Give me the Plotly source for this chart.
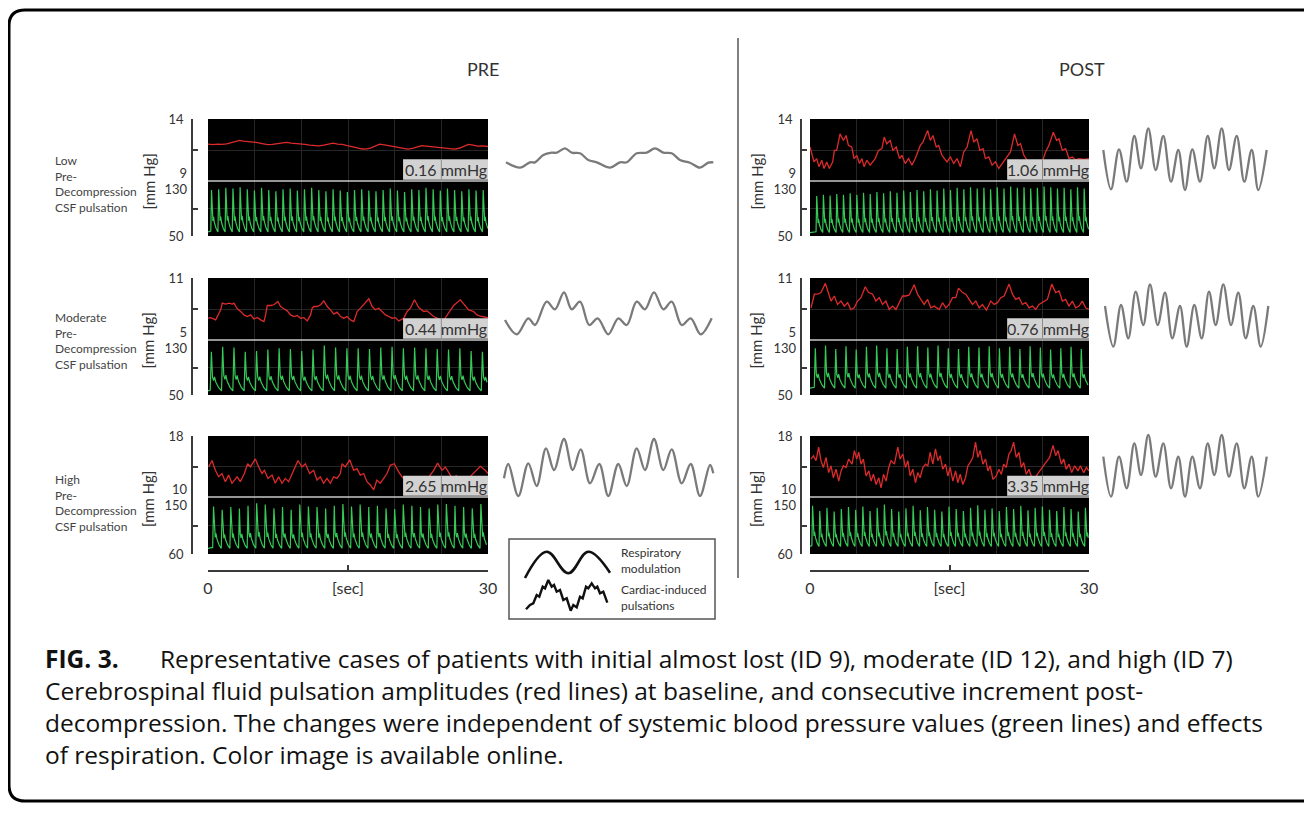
import plotly.graph_objects as go

# ======================= DATA =======================
SECONDS = [0, 30]
ROW_NAMES = ["Low", "Moderate", "High"]
ROW_SUFFIX = ["Pre-", "Decompression", "CSF pulsation"]
RED_RANGES = [[9, 14], [5, 11], [10, 18]]          # CSF pressure axes [mmHg]
GREEN_RANGES = [[50, 130], [50, 130], [60, 150]]   # arterial pressure axes [mmHg]
AMPLITUDE_TEXT = {
    "PRE": ["0.16 mmHg", "0.44 mmHg", "2.65 mmHg"],
    "POST": ["1.06 mmHg", "0.76 mmHg", "3.35 mmHg"],
}

# CSF pressure traces (t [s], mmHg)
pre_low_csf = [(0, 11.97), (0.5, 11.94), (1, 11.98), (1.5, 11.95), (2, 12.0), (2.5, 12.08), (3, 12.18),
               (3.4, 12.27), (3.8, 12.22), (4.3, 12.2), (4.8, 12.12), (5.3, 12.1), (5.8, 12.02),
               (6.4, 11.93), (6.9, 11.95), (7.4, 12.0), (7.9, 12.08), (8.4, 12.12), (8.9, 12.06),
               (9.4, 12.04), (9.9, 11.98), (10.4, 11.95), (10.9, 11.9), (11.4, 11.86), (11.9, 11.84),
               (12.4, 11.9), (12.9, 11.98), (13.4, 12.06), (13.9, 11.97), (14.4, 11.95), (14.9, 11.86),
               (15.4, 11.8), (15.9, 11.7), (16.4, 11.6), (16.9, 11.57), (17.4, 11.66), (17.9, 11.8),
               (18.4, 11.97), (18.9, 11.92), (19.4, 11.85), (19.9, 11.78), (20.4, 11.7), (20.9, 11.64),
               (21.4, 11.57), (21.9, 11.63), (22.4, 11.75), (22.9, 11.86), (23.4, 11.82), (23.9, 11.78),
               (24.4, 11.72), (24.9, 11.66), (25.4, 11.6), (25.9, 11.58), (26.4, 11.57), (26.9, 11.64),
               (27.4, 11.8), (27.9, 11.95), (28.4, 11.9), (28.9, 11.82), (29.4, 11.84), (30, 11.78)]

pre_mod_csf = [(0, 7.11), (0.29, 7.17), (0.82, 6.95), (1.36, 7.92), (1.53, 8.57), (1.89, 8.47), (2.25, 8.57),
               (2.6, 8.47), (2.78, 8.57), (3.14, 8.02), (3.5, 7.76), (3.85, 7.43), (4.21, 7.27), (4.57, 7.43),
               (4.92, 7.04), (5.28, 7.17), (5.64, 6.95), (5.99, 6.78), (6.17, 7.43), (6.35, 8.34), (6.71, 8.34),
               (7.06, 8.41), (7.49, 8.73), (7.78, 8.24), (8.13, 8.02), (8.49, 7.82), (8.85, 7.43), (9.2, 7.27),
               (9.56, 7.37), (9.92, 7.11), (10.27, 7.17), (10.63, 6.85), (10.99, 7.43), (11.16, 8.08),
               (11.34, 8.24), (11.7, 8.24), (12.06, 8.41), (12.41, 8.79), (12.77, 8.24), (13.13, 7.92),
               (13.48, 7.5), (13.84, 7.69), (14.2, 7.27), (14.55, 7.11), (14.91, 7.27), (15.27, 6.95),
               (15.62, 6.78), (15.98, 7.76), (16.34, 8.08), (16.69, 8.41), (17.23, 8.99), (17.59, 8.24),
               (17.94, 7.92), (18.3, 8.08), (18.66, 7.76), (19.01, 7.43), (19.37, 7.27), (19.73, 7.11),
               (20.08, 7.17), (20.44, 6.85), (20.97, 7.11), (21.33, 7.76), (21.69, 8.08), (22.12, 8.89),
               (22.58, 8.15), (23.11, 7.76), (23.47, 7.82), (23.83, 7.5), (24.18, 7.27), (24.54, 7.11),
               (24.9, 6.95), (25.25, 6.9), (25.79, 7.59), (26.32, 8.34), (27.04, 8.89), (27.47, 8.41),
               (27.93, 7.92), (28.46, 7.76), (28.82, 7.43), (29.18, 7.3), (29.6, 7.2), (30, 7.15)]

pre_high_csf = [(0.07, 13.94), (0.43, 14.79), (0.79, 13.5), (1.14, 12.65), (1.5, 13.08), (1.86, 12.01),
                (2.21, 12.87), (2.57, 11.8), (3.11, 12.65), (3.46, 12.01), (3.89, 13.08), (4.25, 14.36),
                (4.54, 13.94), (5.07, 15.0), (5.43, 13.94), (5.79, 13.08), (6.04, 13.5), (6.43, 12.44),
                (6.86, 12.87), (7.21, 11.8), (7.57, 12.65), (7.93, 11.8), (8.28, 12.44), (8.64, 12.01),
                (9.18, 13.5), (9.64, 14.79), (10.07, 13.94), (10.43, 14.36), (10.89, 13.08), (11.32, 13.5),
                (11.68, 12.22), (12.03, 12.65), (12.39, 11.8), (12.75, 12.44), (13.11, 11.8), (13.46, 12.65),
                (13.82, 12.44), (14.18, 13.08), (14.36, 14.36), (14.71, 13.94), (15.18, 14.88), (15.61, 13.5),
                (15.96, 13.72), (16.32, 12.87), (16.68, 13.08), (17.03, 12.01), (17.39, 11.58), (17.75, 10.94),
                (18.1, 12.22), (18.46, 11.8), (18.82, 12.44), (19.18, 13.08), (19.53, 14.15), (19.96, 14.36),
                (20.43, 13.29), (20.78, 12.65), (21.2, 12.2), (21.6, 12.6), (22.0, 12.0), (22.4, 12.5),
                (22.8, 12.2), (23.2, 12.7), (23.6, 12.5), (24.18, 13.5), (24.6, 14.45), (25.07, 13.5),
                (25.43, 13.94), (25.78, 13.29), (26.2, 12.4), (26.6, 12.8), (27.0, 12.1), (27.4, 12.6),
                (27.8, 12.3), (28.2, 12.8), (28.7, 13.4), (29.18, 14.02), (29.71, 13.5), (30, 13.08)]

post_low_csf = [(0, 11.74), (0.18, 11.21), (0.43, 10.54), (0.72, 10.81), (0.97, 10.14), (1.26, 10.68),
                (1.51, 10.01), (1.8, 10.54), (2.08, 10.01), (2.44, 10.54), (2.62, 11.47), (2.87, 11.47),
                (3.23, 12.8), (3.59, 12.27), (3.88, 12.67), (4.13, 11.87), (4.49, 11.74), (4.74, 10.81),
                (5.03, 11.07), (5.32, 10.41), (5.57, 10.81), (5.82, 10.14), (6.11, 10.68), (6.47, 10.28),
                (6.75, 10.54), (7.01, 10.81), (7.37, 11.47), (7.73, 11.61), (7.98, 12.54), (8.26, 12.0),
                (8.62, 12.27), (8.91, 11.47), (9.27, 11.74), (9.63, 10.81), (9.88, 11.07), (10.24, 10.41),
                (10.6, 10.81), (10.96, 10.28), (11.32, 10.81), (11.57, 11.34), (11.86, 11.87), (12.14, 12.14),
                (12.65, 13.07), (12.94, 12.27), (13.22, 12.67), (13.58, 11.74), (13.83, 11.87), (14.19, 11.07),
                (14.44, 10.81), (14.73, 10.54), (15.09, 10.94), (15.45, 10.41), (15.81, 10.81), (16.17, 10.14),
                (16.53, 11.34), (16.89, 11.74), (17.32, 13.07), (17.61, 12.14), (17.97, 12.4), (18.25, 11.47),
                (18.61, 11.61), (18.86, 10.81), (19.22, 10.94), (19.58, 10.28), (19.94, 10.54), (20.3, 10.01),
                (20.66, 10.41), (21.02, 10.81), (21.56, 11.34), (21.99, 12.8), (22.35, 11.87), (22.64, 12.0),
                (23.0, 11.07), (23.4, 10.6), (23.8, 10.3), (24.2, 10.5), (24.6, 10.2), (24.97, 10.54),
                (25.33, 11.34), (25.69, 11.87), (26.16, 12.94), (26.52, 12.27), (26.77, 12.4), (27.13, 11.47),
                (27.49, 11.61), (27.85, 10.81), (28.21, 10.94), (28.56, 10.7), (28.92, 10.81), (29.46, 10.75),
                (30, 10.81)]

post_mod_csf = [(0.11, 8.11), (0.47, 9.43), (0.82, 9.43), (1.18, 9.59), (1.65, 10.48), (1.9, 9.75), (2.26, 8.77),
                (2.61, 9.26), (2.97, 8.44), (3.33, 8.77), (3.69, 8.28), (4.05, 8.61), (4.4, 7.95), (4.76, 8.11),
                (5.12, 8.77), (5.48, 9.1), (5.94, 10.15), (6.3, 9.59), (6.73, 9.43), (7.09, 8.77), (7.45, 9.1),
                (7.8, 8.44), (8.16, 8.77), (8.52, 7.95), (8.88, 8.28), (9.24, 7.95), (9.59, 8.61), (9.95, 9.26),
                (10.31, 9.26), (10.67, 9.36), (11.21, 10.34), (11.56, 9.43), (11.92, 8.93), (12.28, 8.44),
                (12.64, 8.93), (13.0, 8.11), (13.35, 8.28), (13.89, 7.95), (14.25, 8.61), (14.61, 8.11),
                (14.96, 8.44), (15.32, 9.1), (15.68, 9.1), (15.97, 10.02), (16.4, 9.59), (16.75, 9.43),
                (17.11, 8.93), (17.47, 8.44), (17.83, 8.77), (18.19, 8.11), (18.54, 8.44), (18.97, 7.88),
                (19.44, 8.77), (19.8, 8.44), (20.16, 8.61), (20.51, 9.1), (20.87, 9.26), (21.41, 10.41),
                (21.77, 9.43), (22.12, 8.93), (22.48, 9.1), (22.84, 8.44), (23.2, 8.61), (23.56, 8.11),
                (23.91, 8.28), (24.27, 7.95), (24.63, 8.44), (25.17, 8.77), (25.53, 8.93), (25.99, 10.41),
                (26.42, 9.59), (26.78, 9.75), (27.14, 8.77), (27.49, 8.93), (27.85, 8.28), (28.21, 8.77),
                (28.57, 8.11), (28.93, 8.28), (29.28, 8.77), (29.64, 8.11), (30, 7.95)]

post_high_csf = [(0.11, 14.98), (0.36, 15.42), (0.65, 14.76), (0.93, 16.53), (1.18, 14.76), (1.44, 13.87),
                 (1.72, 15.2), (2.01, 13.2), (2.26, 14.09), (2.51, 12.53), (2.8, 13.64), (3.09, 12.09),
                 (3.34, 13.42), (3.59, 14.09), (3.88, 13.87), (4.16, 14.98), (4.52, 14.31), (4.77, 16.09),
                 (5.02, 14.98), (5.24, 15.87), (5.49, 14.31), (5.74, 14.98), (6.03, 12.76), (6.32, 13.42),
                 (6.57, 12.09), (6.82, 12.98), (7.11, 11.64), (7.39, 12.53), (7.64, 11.2), (7.9, 12.98),
                 (8.18, 12.09), (8.47, 13.87), (8.72, 14.76), (9.08, 14.31), (9.44, 16.53), (9.69, 14.98),
                 (9.98, 15.64), (10.26, 13.87), (10.52, 14.76), (10.77, 12.76), (11.05, 13.64), (11.34, 11.87),
                 (11.59, 13.2), (11.84, 12.53), (12.13, 13.87), (12.42, 14.31), (12.67, 14.09), (12.92, 15.87),
                 (13.21, 14.31), (13.49, 16.31), (13.75, 14.76), (14.0, 15.42), (14.28, 13.64), (14.57, 14.31),
                 (14.82, 12.76), (15.07, 13.87), (15.36, 12.09), (15.65, 13.42), (15.9, 11.87), (16.15, 12.98),
                 (16.44, 11.64), (16.72, 12.53), (16.98, 14.09), (17.23, 14.53), (17.51, 15.2), (17.8, 17.2),
                 (18.05, 15.2), (18.3, 16.09), (18.59, 14.31), (18.88, 14.98), (19.13, 13.42), (19.38, 14.09),
                 (19.67, 12.31), (20.03, 12.76), (20.31, 13.64), (20.57, 12.98), (20.82, 14.31), (21.1, 13.87),
                 (21.39, 15.64), (21.64, 16.09), (21.89, 17.2), (22.18, 15.2), (22.47, 15.87), (22.72, 13.87),
                 (22.97, 14.53), (23.26, 12.98), (23.54, 13.64), (23.97, 12.09), (24.33, 12.76), (24.69, 13.42),
                 (25.23, 14.31), (25.77, 15.2), (26.13, 16.76), (26.42, 15.42), (26.67, 16.09), (27.03, 14.31),
                 (27.28, 14.98), (27.56, 13.64), (27.85, 14.31), (28.14, 13.2), (28.46, 14.09), (28.82, 13.42),
                 (29.07, 14.09), (29.43, 13.2), (29.72, 13.87), (30.0, 13.42)]

# Arterial pressure: systolic peak of each beat [mmHg], diastolic level, first onset [s], beat period [s]
pre_low_sys = [117, 118, 120, 119, 121, 118, 116, 120, 117, 115, 118, 119, 116, 118, 120, 117, 115, 118, 116, 114,
               117, 118, 116, 115, 117, 119, 116, 114, 118, 117, 120, 118, 116, 119, 117, 115, 118, 116, 117]
pre_mod_sys = [113, 120, 119, 113, 114, 116, 118, 117, 114, 116, 122, 119, 118, 118, 117, 119, 120, 118, 119, 118,
               117, 116, 118, 114, 113]
pre_high_sys = [135, 130, 134, 132, 136, 140, 138, 132, 134, 130, 138, 135, 134, 132, 136, 139, 135, 138, 134, 136,
                132, 131, 138, 136, 134, 132, 138, 139, 136, 134, 132, 139]
post_low_sys = [108, 110, 109, 111, 110, 112, 110, 113, 111, 114, 112, 115, 113, 116, 114, 117, 115, 118, 116, 119,
                117, 120, 118, 121, 119, 120, 118, 121, 119, 122, 120, 121, 119, 120, 122, 121, 119, 120, 118, 121,
                119]
post_mod_sys = [118, 122, 117, 121, 116, 120, 122, 118, 117, 120, 121, 119, 122, 118, 117, 120, 119, 121, 118, 120,
                117, 121, 119, 116, 118, 120, 117]
post_high_sys = [136, 128, 133, 127, 131, 134, 130, 135, 128, 133, 138, 131, 127, 132, 136, 129, 134, 130, 127, 135,
                 131, 128, 133, 137, 130, 132, 128, 134, 131, 136, 129, 133, 135, 130, 128, 134, 131, 127, 133]
DIASTOLIC = {"PRE": [56, 56, 69], "POST": [55, 60, 72]}
FIRST_ONSET = {"PRE": [0.3, 0.24, 0.5], "POST": [0.65, 0.46, 0.2]}
BEAT_PERIOD = {"PRE": [0.766, 1.21, 0.924], "POST": [0.719, 1.1, 0.772]}
# one arterial pulse: phase within beat and relative height
PULSE_PHASE = [0.0, 0.1, 0.2, 0.3, 0.38, 0.5, 0.75, 1.0]
PULSE_SHAPE = [0.02, 1.0, 0.35, 0.26, 0.36, 0.22, 0.08, 0.0]

CSF = {"PRE": [pre_low_csf, pre_mod_csf, pre_high_csf], "POST": [post_low_csf, post_mod_csf, post_high_csf]}
SYS = {"PRE": [pre_low_sys, pre_mod_sys, pre_high_sys], "POST": [post_low_sys, post_mod_sys, post_high_sys]}

# Schematic decomposed waveforms (position, amplitude in arbitrary units): alternating extremes
pre_low_wave = [(6, 87.7), (20, 82.3), (30, 87.7), (35, 87.7), (43.3, 95), (51.7, 97.3), (56.7, 97.3), (65, 101.7),
                (71.7, 97.3), (80, 96.7), (88.3, 90), (96.7, 87.7), (110, 82.3), (120, 87.7), (126.7, 87.7),
                (136.7, 96.7), (146.7, 97.3), (155, 101.7), (163.3, 97.3), (171.7, 96.7), (180, 90), (190, 87.3),
                (200, 82.3), (208.3, 87.3), (213.3, 87.7)]
pre_mod_wave = [(5, 90), (16.7, 75.7), (28.3, 91.7), (35, 85), (46.7, 108.3), (55, 100.7), (64, 117.7), (71.7, 100.7),
                (80, 108.3), (89.3, 85), (97.7, 91.7), (108.3, 75.7), (118.3, 91.7), (126.7, 85), (136.7, 108.3),
                (145, 100.7), (154, 117.7), (163.3, 100.7), (171.7, 108.3), (181.7, 85), (190.7, 91.7),
                (200.7, 75.7), (211.7, 91.7)]
pre_high_wave = [(4, 91.7), (8.3, 106), (18.3, 74), (28.3, 106.7), (36.7, 84), (46, 121.7), (54, 100), (64, 131),
                 (72.7, 100), (80.7, 120.7), (90, 86.7), (99.3, 106), (108.3, 74), (118.3, 106), (126.7, 84),
                 (136.7, 121.7), (145, 100), (154, 131), (163.3, 100), (171.7, 120.7), (181.7, 86.7), (190.7, 106),
                 (200, 74), (210, 105), (213.3, 96.7)]
post_low_wave = [(8.3, 100), (16, 60.7), (24, 100.7), (31.7, 68.3), (39.3, 114), (46, 81.7), (53.3, 121.7),
                 (60.7, 80), (68.3, 114), (76, 68.3), (83.3, 100), (90, 60), (97.3, 100.7), (105, 68.3),
                 (112.7, 114), (119.3, 81.7), (126.7, 121.7), (134, 80), (141.7, 114), (149.3, 68.3), (156.7, 100),
                 (163.3, 60), (171.7, 100)]
post_mod_wave = [(10, 104), (18.3, 63.3), (26, 105), (33.3, 71.7), (40.7, 118.3), (48.3, 85), (55, 125.7),
                 (62.7, 85), (70, 117.3), (77.3, 71.7), (85, 104), (91.7, 63.3), (99.3, 105), (106.7, 71.7),
                 (114, 118.3), (120.7, 85), (128.3, 125.7), (136, 85), (143.3, 117.3), (150.7, 71.7), (158.3, 104),
                 (165.7, 63.3), (173.3, 104)]
post_high_wave = [(8.3, 113.3), (16, 73.3), (24, 113.3), (31.7, 81.7), (39.3, 126.7), (46, 95), (53.3, 135),
                  (60.7, 93.3), (68.3, 126.7), (76, 81.7), (83.3, 113.3), (90, 73.3), (97.3, 113.3), (105, 81.7),
                  (112.7, 126.7), (119.3, 95), (126.7, 135), (134, 93.3), (141.7, 126.7), (149.3, 81.7),
                  (156.7, 113.3), (163.3, 73.3), (171.7, 113.3)]
WAVES = {"PRE": [pre_low_wave, pre_mod_wave, pre_high_wave], "POST": [post_low_wave, post_mod_wave, post_high_wave]}

# Key (legend) curves
key_resp = [(10, 37), (31.7, 63.3), (53.3, 41.7), (73.3, 63.3), (95, 42.3)]
key_card = [(11, 5.7), (15, 10), (18.3, 11.7), (21.7, 20), (24.3, 18.3), (27.7, 28.3), (30, 26.7), (33.3, 35),
            (36.7, 28.3), (39, 30), (41.7, 23.3), (45, 25), (48.3, 15), (51.7, 16.7), (55.7, 4.3), (58.3, 10),
            (61.7, 7.7), (65, 18.3), (67.7, 16.7), (71, 28.3), (73.3, 26.7), (76.7, 31.7), (80, 26.7),
            (82.3, 28.3), (85, 21.7), (88.3, 23.3), (92.3, 12.3)]

CAPTION = [
    "Cerebrospinal fluid pulsation amplitudes (red lines) at baseline, and consecutive increment post-",
    "decompression. The changes were independent of systemic blood pressure values (green lines) and effects",
    "of respiration. Color image is available online.",
]
CAPTION_FIRST = "Representative cases of patients with initial almost lost (ID 9), moderate (ID 12), and high (ID 7)"

# ======================= LAYOUT / STYLE =======================
PAGE_W, PAGE_H = 1312, 815
BODY_MARGIN = 8                      # default browser margin around the plot div
W, H = PAGE_W - 2 * BODY_MARGIN, PAGE_H - 2 * BODY_MARGIN
FONT = "Lato, Open Sans, sans-serif"
CAP_FONT = "Open Sans, sans-serif"
RED = "#dd2b2b"
GREEN = "#36c957"
GRID = "#262626"
AXC = "#3a3a3a"
TXT = "#333333"


def fx(p):
    return (p - BODY_MARGIN) / W


def fy(p):
    return 1 - (p - BODY_MARGIN) / H


COLS = [
    dict(name="PRE", plot=(208, 488), axis=192, unit_x=148, grey=(500, 730), box_t0=20.9, title_x=483),
    dict(name="POST", plot=(810, 1089), axis=801, unit_x=756, grey=(1095, 1304), box_t0=21.2, title_x=1082),
]
ROWS_PX = [(119, 181, 236), (278, 340, 395), (436, 497, 554)]
GREY_PX = [(110, 250), (270, 410), (430, 570)]
LABEL_Y = [184, 341, 503]

fig = go.Figure()
layout = {}
shapes = []
annotations = []
counter = {"x": 0, "y": 0}


def new_axis(kind):
    counter[kind] += 1
    return counter[kind]


def key(kind, n):
    return f"{kind}axis" + ("" if n == 1 else str(n))


def ref(kind, n):
    return kind + ("" if n == 1 else str(n))


def empty_trace(xn, yn):
    fig.add_trace(go.Scatter(x=[None], y=[None], xaxis=ref("x", xn), yaxis=ref("y", yn), mode="lines",
                             showlegend=False, hoverinfo="skip"))


def pulse_series(onset, period, systolic, diastolic):
    ts, vs = [0.0], [float(diastolic)]
    for i, s in enumerate(systolic):
        t0 = onset + i * period
        for j, (ph, sh) in enumerate(zip(PULSE_PHASE, PULSE_SHAPE)):
            if i > 0 and j == 0:
                continue
            t = t0 + ph * period
            if t > SECONDS[1]:
                break
            ts.append(t)
            vs.append(diastolic + sh * (s - diastolic))
    return ts, vs


tickfont = dict(family=FONT, size=13, color=TXT)

for c, col in enumerate(COLS):
    name = col["name"]
    for r in range(3):
        top, sep, bot = ROWS_PX[r]
        rlo, rhi = RED_RANGES[r]
        glo, ghi = GREEN_RANGES[r]
        xi = new_axis("x")
        yr = new_axis("y")
        yg = new_axis("y")
        yrl = new_axis("y")
        ygl = new_axis("y")
        layout[key("x", xi)] = dict(domain=[fx(col["plot"][0]), fx(col["plot"][1])], range=SECONDS,
                                    anchor=ref("y", yr), showgrid=True, gridcolor=GRID, gridwidth=1, dtick=5,
                                    tick0=0, showticklabels=False, ticks="", showline=False, zeroline=False)
        common_y = dict(anchor="free", position=fx(col["axis"]), side="left", zeroline=False,
                        tickfont=tickfont, ticklabelstandoff=5)
        layout[key("y", yr)] = dict(common_y, domain=[fy(sep), fy(top)], range=[rlo, rhi], showline=True,
                                    linecolor=AXC, linewidth=1.5, ticks="inside", ticklen=5, tickwidth=1.5,
                                    tickcolor=AXC, tickvals=[rlo, (rlo + rhi) / 2, rhi], ticktext=["", "", str(rhi)],
                                    showgrid=True, gridcolor=GRID)
        layout[key("y", yg)] = dict(common_y, domain=[fy(bot), fy(sep)], range=[glo, ghi], showline=True,
                                    linecolor=AXC, linewidth=1.5, ticks="inside", ticklen=5, tickwidth=1.5,
                                    tickcolor=AXC, tickvals=[glo, (glo + ghi) / 2, ghi], ticktext=[str(glo), "", ""],
                                    showgrid=True, gridcolor=GRID)
        # label-only axes so that the two labels at the shared tick do not collide
        layout[key("y", yrl)] = dict(common_y, overlaying=ref("y", yr), range=[rlo, rhi], showline=False,
                                     ticks="", tickvals=[rlo + 0.13 * (rhi - rlo)], ticktext=[str(rlo)],
                                     showgrid=False)
        layout[key("y", ygl)] = dict(common_y, overlaying=ref("y", yg), range=[glo, ghi], showline=False,
                                     ticks="", tickvals=[ghi - 0.145 * (ghi - glo)], ticktext=[str(ghi)],
                                     showgrid=False)
        empty_trace(xi, yrl)
        empty_trace(xi, ygl)

        # black scope background
        for yn in (yr, yg):
            shapes.append(dict(type="rect", xref=f"{ref('x', xi)} domain", yref=f"{ref('y', yn)} domain",
                               x0=0, x1=1, y0=0, y1=1, fillcolor="black", line=dict(width=0), layer="below"))

        # traces
        t_csf = [p[0] for p in CSF[name][r]]
        v_csf = [p[1] for p in CSF[name][r]]
        fig.add_trace(go.Scatter(x=t_csf, y=v_csf, mode="lines", line=dict(color=RED, width=1.3),
                                 xaxis=ref("x", xi), yaxis=ref("y", yr), showlegend=False, hoverinfo="skip"))
        tg, vg = pulse_series(FIRST_ONSET[name][r], BEAT_PERIOD[name][r], SYS[name][r], DIASTOLIC[name][r])
        fig.add_trace(go.Scatter(x=tg, y=vg, mode="lines", line=dict(color=GREEN, width=1.2),
                                 xaxis=ref("x", xi), yaxis=ref("y", yg), showlegend=False, hoverinfo="skip"))

        # separator between CSF and arterial scope
        shapes.append(dict(type="line", xref=f"{ref('x', xi)} domain", yref=f"{ref('y', yr)} domain",
                           x0=0, x1=1, y0=0, y1=0, line=dict(color="#c9c9c9", width=1.5), layer="above"))
        # amplitude box
        box_h = 0.35
        shapes.append(dict(type="rect", xref=ref("x", xi), yref=f"{ref('y', yr)} domain",
                           x0=col["box_t0"], x1=SECONDS[1], y0=0.02, y1=box_h, fillcolor="#d2d2d2",
                           line=dict(width=0), layer="above"))
        shapes.append(dict(type="line", xref=ref("x", xi), yref=f"{ref('y', yr)} domain",
                           x0=25, x1=25, y0=0.02, y1=box_h, line=dict(color="#8c8c8c", width=1), layer="above"))
        annotations.append(dict(xref=ref("x", xi), yref=f"{ref('y', yr)} domain",
                                x=(col["box_t0"] + SECONDS[1]) / 2, y=(box_h + 0.02) / 2, xanchor="center",
                                yanchor="middle", text=AMPLITUDE_TEXT[name][r],
                                showarrow=False, font=dict(family=FONT, size=16, color=TXT)))
        # unit label
        annotations.append(dict(xref="paper", yref="paper", x=fx(col["unit_x"]), y=fy((top + bot) / 2 + 4),
                                xanchor="center", yanchor="middle",
                                text="[mm Hg]", textangle=-90, showarrow=False,
                                font=dict(family=FONT, size=15, color=TXT)))
        # bottom time axis on last row
        if r == 2:
            xb = new_axis("x")
            layout[key("x", xb)] = dict(overlaying=ref("x", xi), anchor="free", position=fy(571), range=SECONDS,
                                        side="bottom", showline=True, linecolor=AXC, linewidth=1.5,
                                        ticks="inside", ticklen=5, tickwidth=1.5, tickcolor=AXC,
                                        tickvals=[0, 15, 30], ticktext=["0", "[sec]", "30"], showgrid=False,
                                        zeroline=False, ticklabelstandoff=3,
                                        tickfont=dict(family=FONT, size=16, color=TXT))
            empty_trace(xb, yr)

        # schematic waveform next to the panel
        gx = new_axis("x")
        gy = new_axis("y")
        gx0, gx1 = col["grey"]
        gt, gb = GREY_PX[r]
        layout[key("x", gx)] = dict(domain=[fx(gx0), fx(gx1)], range=[0, gx1 - gx0], visible=False,
                                    anchor=ref("y", gy))
        layout[key("y", gy)] = dict(domain=[fy(gb), fy(gt)], range=[0, gb - gt], visible=False,
                                    anchor=ref("x", gx))
        wave = WAVES[name][r]
        fig.add_trace(go.Scatter(x=[p[0] for p in wave], y=[p[1] for p in wave], mode="lines",
                                 line=dict(color="#7a7a7a", width=2.3, shape="spline", smoothing=1.0),
                                 xaxis=ref("x", gx), yaxis=ref("y", gy), showlegend=False, hoverinfo="skip"))

        if c == 0:
            annotations.append(dict(xref="paper", yref="paper", x=fx(53), y=fy(LABEL_Y[r]), xanchor="left",
                                    yanchor="middle", align="left", showarrow=False,
                                    text="<br>".join([ROW_NAMES[r]] + ROW_SUFFIX),
                                    font=dict(family=FONT, size=12, color="#444444")))

    annotations.append(dict(xref="paper", yref="paper", x=fx(col["title_x"]), y=fy(69), text=name,
                            xanchor="center", yanchor="middle",
                            showarrow=False, font=dict(family=FONT, size=18, color=TXT)))

# key box
kx = new_axis("x")
ky = new_axis("y")
layout[key("x", kx)] = dict(domain=[fx(515), fx(615)], range=[0, 100], visible=False, anchor=ref("y", ky))
layout[key("y", ky)] = dict(domain=[fy(615), fy(540)], range=[0, 75], visible=False, anchor=ref("x", kx))
fig.add_trace(go.Scatter(x=[p[0] for p in key_resp], y=[p[1] for p in key_resp], mode="lines",
                         line=dict(color="#111111", width=2.6, shape="spline", smoothing=1.1),
                         xaxis=ref("x", kx), yaxis=ref("y", ky), showlegend=False, hoverinfo="skip"))
fig.add_trace(go.Scatter(x=[p[0] for p in key_card], y=[p[1] for p in key_card], mode="lines",
                         line=dict(color="#111111", width=2.4),
                         xaxis=ref("x", kx), yaxis=ref("y", ky), showlegend=False, hoverinfo="skip"))
shapes.append(dict(type="rect", xref="paper", yref="paper", x0=fx(509), x1=fx(715), y0=fy(619), y1=fy(539),
                   line=dict(color="#555555", width=1.5), fillcolor="rgba(0,0,0,0)"))
annotations.append(dict(xref="paper", yref="paper", x=fx(619), y=fy(560), xanchor="left", yanchor="middle",
                        align="left", showarrow=False, text="Respiratory<br>modulation",
                        font=dict(family=FONT, size=12, color=TXT)))
annotations.append(dict(xref="paper", yref="paper", x=fx(619), y=fy(597), xanchor="left", yanchor="middle",
                        align="left", showarrow=False, text="Cardiac-induced<br>pulsations",
                        font=dict(family=FONT, size=12, color=TXT)))

# divider between PRE and POST
shapes.append(dict(type="line", xref="paper", yref="paper", x0=fx(738), x1=fx(738), y0=fy(38), y1=fy(578),
                   line=dict(color="#555555", width=1.5)))


# rounded frame
def P(x, y):
    return f"{fx(x):.5f},{fy(y):.5f}"


frame = (f"M {P(1340, 10)} L {P(25, 10)} Q {P(9, 10)} {P(9, 26)} L {P(9, 785)} Q {P(9, 801)} {P(25, 801)} "
         f"L {P(1340, 801)}")
shapes.append(dict(type="path", xref="paper", yref="paper", path=frame, line=dict(color="black", width=3)))

# caption
cap_font = dict(family=CAP_FONT, size=24.5, color="#111111")
annotations.append(dict(xref="paper", yref="paper", x=fx(43), y=fy(658), xanchor="left", yanchor="middle",
                        showarrow=False, text="<b>FIG. 3.</b>", font=cap_font))
annotations.append(dict(xref="paper", yref="paper", x=fx(158), y=fy(658), xanchor="left", yanchor="middle",
                        showarrow=False, text=CAPTION_FIRST, font=cap_font))
for i, line in enumerate(CAPTION):
    annotations.append(dict(xref="paper", yref="paper", x=fx(43), y=fy(690 + 32 * i), xanchor="left",
                            yanchor="middle", showarrow=False, text=line, font=cap_font))

fig.update_layout(width=W, height=H, margin=dict(l=0, r=0, t=0, b=0, pad=0, autoexpand=False),
                  paper_bgcolor="white", plot_bgcolor="rgba(0,0,0,0)", showlegend=False, shapes=shapes,
                  annotations=annotations, **layout)
fig.write_html("out.html")
